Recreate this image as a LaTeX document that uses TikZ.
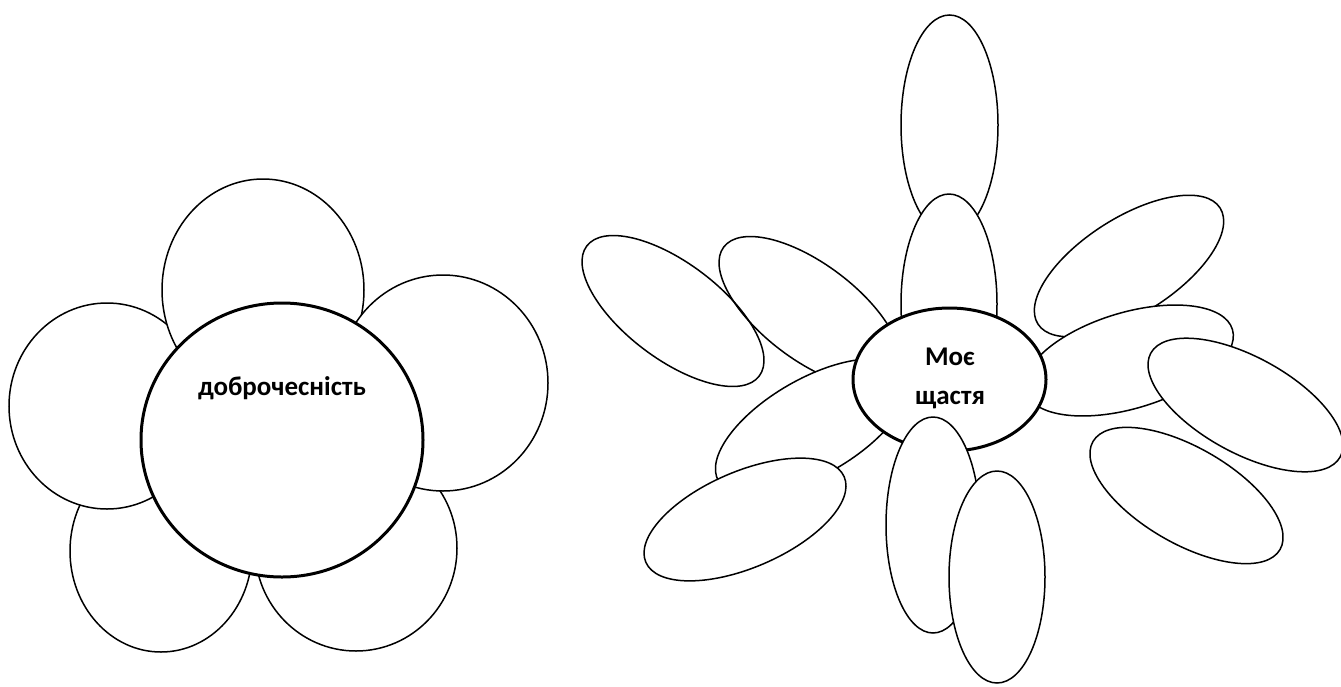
\documentclass[tikz,border=0pt]{standalone}
\usepackage{fontspec}
\setmainfont{Carlito}
\begin{document}
\begin{tikzpicture}[x=1pt, y=-1pt,
  petal/.style={draw=black, line width=1.5pt, fill=white},
  openpetal/.style={draw=black, line width=1.5pt},
  heart/.style={draw=black, line width=3pt, fill=white},
  word/.style={font=\fontsize{27}{39}\selectfont\bfseries, align=center, inner sep=0pt}]
\useasboundingbox (0,0) rectangle (1341,686);
% left flower
\path[petal] (356,548) ellipse [x radius=101, y radius=103];
\path[petal] (161,551) ellipse [x radius=91, y radius=101];
\path[petal] (107,406) ellipse [x radius=98, y radius=103];
\path[petal] (263,290) ellipse [x radius=101, y radius=111];
\path[petal] (443,383) ellipse [x radius=105, y radius=108];
\path[heart] (282,440) ellipse [x radius=141, y radius=137];
\node[word, anchor=base] (virtue) at (282,395) {доброчесність};
% right flower
\path[petal, rotate around={-37:(673,311)}] (673,311) ellipse [x radius=108, y radius=48];
\path[openpetal, rotate around={-37:(810,312)}] (810,312) ellipse [x radius=108, y radius=48];
\path[petal] (949.5,125) ellipse [x radius=48.5, y radius=110];
\path[petal] (949,304) ellipse [x radius=48, y radius=110];
\path[petal, rotate around={32.5:(1129,266)}] (1129,266) ellipse [x radius=108, y radius=48];
\path[petal, rotate around={16.7:(1129,360.5)}] (1129,360.5) ellipse [x radius=108, y radius=48];
\path[petal, rotate around={-28.7:(1245.5,405)}] (1245.5,405) ellipse [x radius=108, y radius=48];
\path[petal, rotate around={-30:(1186.5,495.5)}] (1186.5,495.5) ellipse [x radius=108, y radius=48];
\path[petal, rotate around={30:(812,427)}] (812,427) ellipse [x radius=108, y radius=48];
\path[petal, rotate around={23.3:(745,519.5)}] (745,519.5) ellipse [x radius=108, y radius=48];
\path[heart] (949.5,379.5) ellipse [x radius=96.5, y radius=71.5];
\node[word] (happy) at (950,378) {Моє\\щастя};
\path[petal] (933,525) ellipse [x radius=47, y radius=108];
\path[petal] (997,577) ellipse [x radius=48, y radius=106];
\end{tikzpicture}
\end{document}
